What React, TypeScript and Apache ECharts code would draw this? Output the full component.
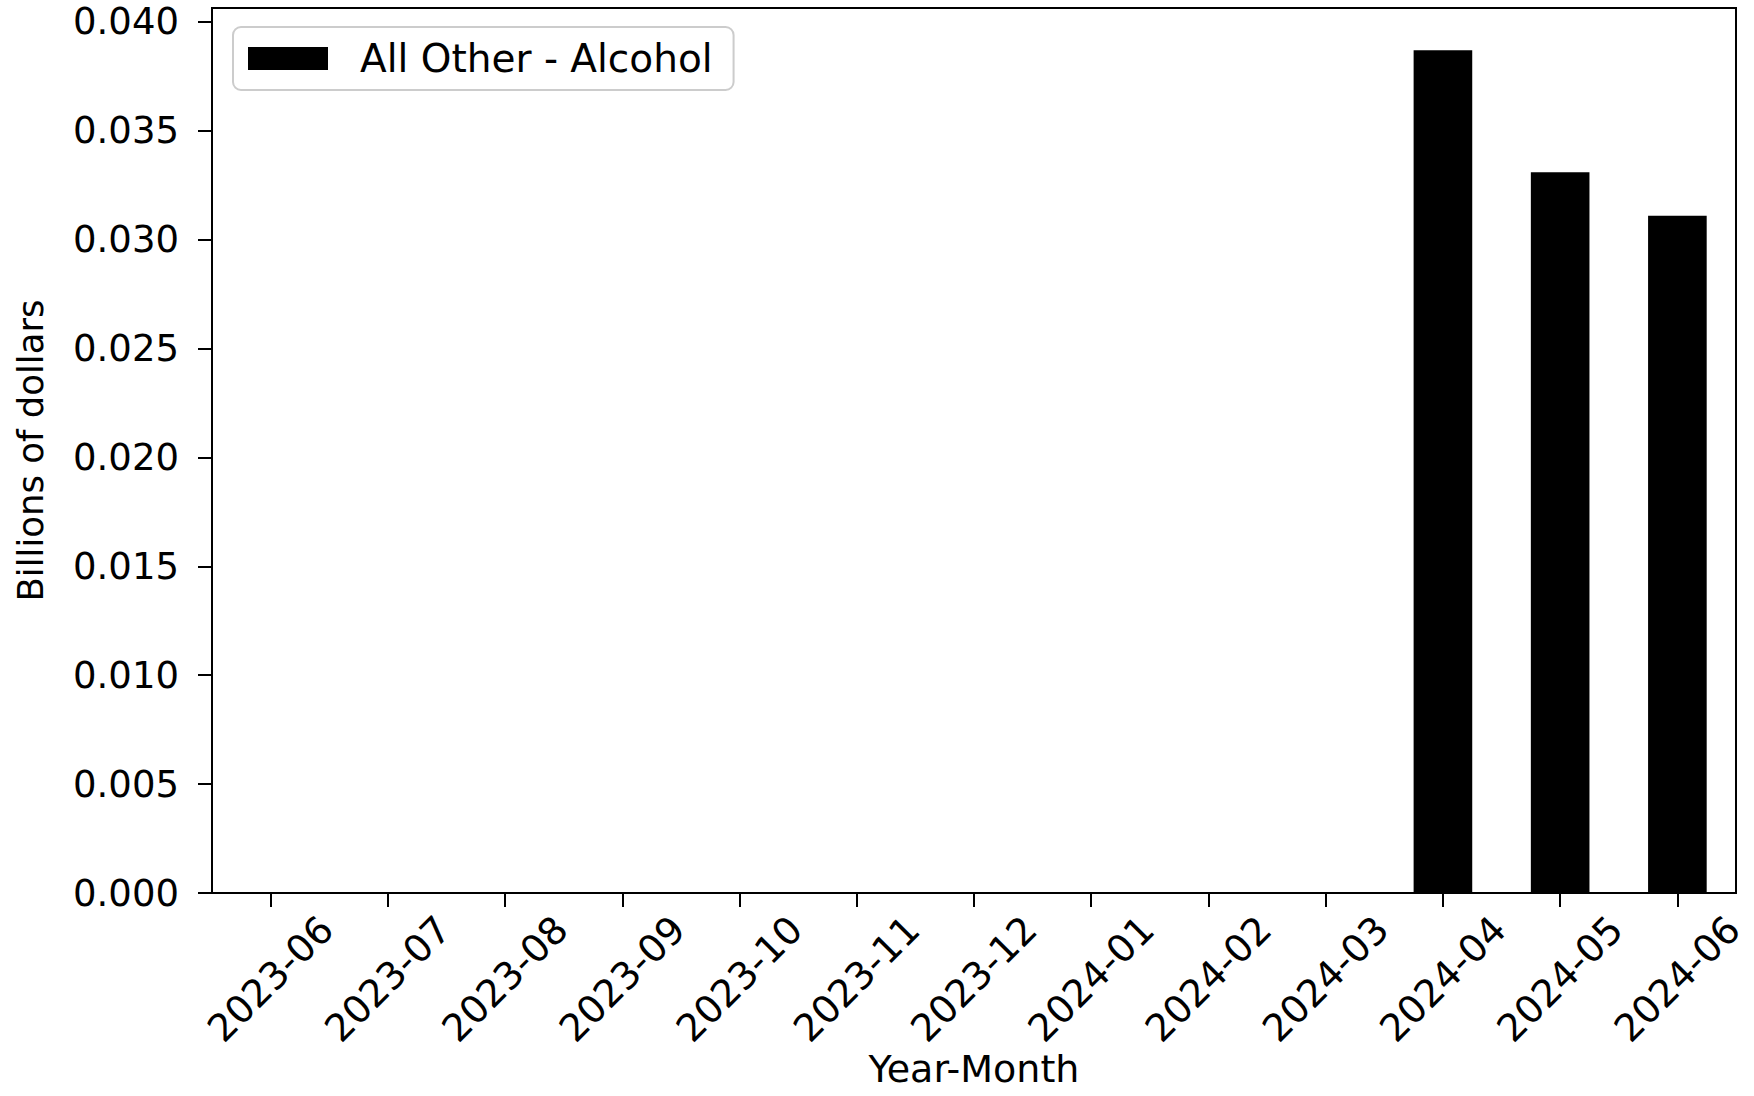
import React, { useEffect, useRef } from "react";
import * as echarts from "echarts";

const categories = [
  "2023-06", "2023-07", "2023-08", "2023-09", "2023-10", "2023-11", "2023-12",
  "2024-01", "2024-02", "2024-03", "2024-04", "2024-05", "2024-06",
];
const seriesName = "All Other - Alcohol";
const values = [0, 0, 0, 0, 0, 0, 0, 0, 0, 0, 0.0387, 0.0331, 0.0311];
const yMax = 0.04064;
const yInterval = 0.005;

const FONT = "DejaVu Sans";
const FS = 37;

export default function App() {
  const ref = useRef<HTMLDivElement>(null);
  useEffect(() => {
    if (!ref.current) return;
    const chart = echarts.init(ref.current, null, { renderer: "svg" });
    chart.setOption({
      animation: false,
      backgroundColor: "#ffffff",
      textStyle: { fontFamily: FONT, color: "#000" },
      grid: {
        left: 212,
        right: 18,
        top: 8,
        bottom: 203,
        outerBoundsMode: "none",
        containLabel: false,
        show: true,
        borderColor: "#000",
        borderWidth: 2,
        backgroundColor: "transparent",
      },
      legend: {
        left: 233,
        top: 27,
        padding: [12, 21, 12, 15],
        itemWidth: 80,
        itemHeight: 23,
        icon: "rect",
        backgroundColor: "rgba(255,255,255,0.8)",
        borderColor: "#cccccc",
        borderWidth: 2,
        borderRadius: 8,
        textStyle: { fontFamily: FONT, fontSize: 39, color: "#000", padding: [0, 0, 0, 27] },
        data: [seriesName],
      },
      xAxis: {
        type: "category",
        data: categories,
        boundaryGap: true,
        name: "Year-Month",
        nameLocation: "middle",
        nameGap: 156,
        nameMoveOverlap: false,
        nameTextStyle: { fontFamily: FONT, fontSize: 38, color: "#000", lineHeight: 40 },
        axisLine: { show: true, lineStyle: { color: "#000", width: 2 } },
        axisTick: { show: true, alignWithLabel: true, length: 14, lineStyle: { color: "#000", width: 2 } },
        axisLabel: {
          rotate: 45,
          align: "center",
          verticalAlign: "middle",
          margin: 86,
          interval: 0,
          fontFamily: FONT,
          fontSize: 38,
          color: "#000",
        },
        splitLine: { show: false },
      },
      yAxis: {
        type: "value",
        min: 0,
        max: yMax,
        interval: yInterval,
        name: "Billions of dollars",
        nameLocation: "middle",
        nameGap: 164,
        nameMoveOverlap: false,
        nameTextStyle: { fontFamily: FONT, fontSize: 35.5, color: "#000" },
        axisLine: { show: true, lineStyle: { color: "#000", width: 2 } },
        axisTick: { show: true, length: 14, lineStyle: { color: "#000", width: 2 } },
        axisLabel: {
          margin: 33,
          showMaxLabel: false,
          fontFamily: FONT,
          fontSize: FS,
          color: "#000",
          formatter: (v: number) => v.toFixed(3),
        },
        splitLine: { show: false },
      },
      series: [
        {
          name: seriesName,
          type: "bar",
          data: values,
          barWidth: "50%",
          itemStyle: { color: "#000000" },
        },
      ],
    });
    return () => chart.dispose();
  }, []);
  return (
    <div
      ref={ref}
      style={{ position: "fixed", left: 0, top: 0, width: 1754, height: 1096, background: "#fff" }}
    />
  );
}
